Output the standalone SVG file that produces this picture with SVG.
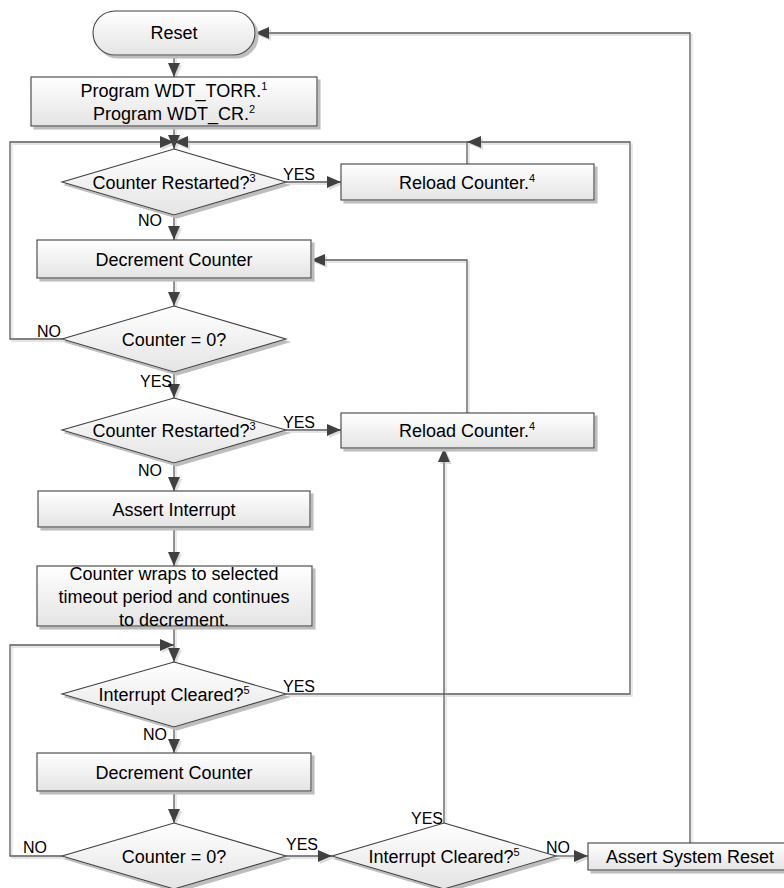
<svg xmlns="http://www.w3.org/2000/svg" width="784" height="888" viewBox="0 0 784 888">
<defs>
<linearGradient id="g" x1="0" y1="0" x2="0" y2="1">
<stop offset="0" stop-color="#ffffff"/>
<stop offset="1" stop-color="#e4e4e4"/>
</linearGradient>
<filter id="sh" x="-10%" y="-10%" width="130%" height="140%">
<feOffset in="SourceAlpha" dx="2.5" dy="2.5" result="o"/>
<feFlood flood-color="#bdbdbd"/>
<feComposite in2="o" operator="in" result="s"/>
<feMerge><feMergeNode in="s"/><feMergeNode in="SourceGraphic"/></feMerge>
</filter>
<filter id="lsh" x="-5%" y="-5%" width="110%" height="110%">
<feOffset in="SourceAlpha" dx="2" dy="2" result="o"/>
<feFlood flood-color="#dddddd"/>
<feComposite in2="o" operator="in" result="s"/>
<feMerge><feMergeNode in="s"/><feMergeNode in="SourceGraphic"/></feMerge>
</filter>
<marker id="ah" markerUnits="userSpaceOnUse" markerWidth="15" markerHeight="12" refX="14" refY="6" orient="auto">
<path d="M0,0 L14,6 L0,12 z" fill="#404040"/>
</marker>
</defs>
<style>
.box{fill:url(#g);stroke:#404040;stroke-width:1.1;filter:url(#sh)}
.t{font-family:"Liberation Sans",Arial,sans-serif;font-size:18px;fill:#000;text-anchor:middle}
.l{font-family:"Liberation Sans",Arial,sans-serif;font-size:16px;fill:#000}
.c{fill:none;stroke:#595959;stroke-width:1.3}
.a{marker-end:url(#ah)}
</style>

<g id="connectors" filter="url(#lsh)">
<path class="c a" d="M174,55 V77"/>
<path class="c a" d="M174,126 V149"/>
<path class="c a" d="M286,182 H341"/>
<path class="c a" d="M467,164 V142 H174"/>
<path class="c a" d="M174,215 V240"/>
<path class="c a" d="M174,278 V306"/>
<path class="c a" d="M62,339 H10 V142 H174"/>
<path class="c a" d="M174,372 V398"/>
<path class="c a" d="M286,430 H341"/>
<path class="c a" d="M467,413 V260 H311"/>
<path class="c a" d="M174,463 V491"/>
<path class="c a" d="M174,527 V566"/>
<path class="c a" d="M174,626 V662"/>
<path class="c a" d="M286,694 H630 V142 H467"/>
<path class="c a" d="M174,727 V753"/>
<path class="c a" d="M174,791 V823"/>
<path class="c a" d="M62,856 H10 V645 H174"/>
<path class="c a" d="M286,856 H332"/>
<path class="c a" d="M444,823 V448"/>
<path class="c a" d="M556,856 H588"/>
<path class="c a" d="M690,843 V33 H255"/>
</g>

<g id="labels">
<text class="l" x="283" y="180">YES</text>
<text class="l" x="138" y="226">NO</text>
<text class="l" x="37" y="337">NO</text>
<text class="l" x="140" y="387">YES</text>
<text class="l" x="283" y="428">YES</text>
<text class="l" x="138" y="476">NO</text>
<text class="l" x="283" y="692">YES</text>
<text class="l" x="143" y="740">NO</text>
<text class="l" x="23" y="853">NO</text>
<text class="l" x="286" y="850">YES</text>
<text class="l" x="411" y="824">YES</text>
<text class="l" x="546" y="853">NO</text>
</g>

<g id="reset">
<rect class="box" x="93" y="11" width="162" height="44" rx="22" ry="22"/>
<text class="t" x="174" y="39">Reset</text>
</g>
<g id="program">
<rect class="box" x="31" y="77" width="286" height="49"/>
<text class="t" x="174" y="97">Program WDT_TORR.<tspan font-size="11" dy="-7">1</tspan></text>
<text class="t" x="174" y="120">Program WDT_CR.<tspan font-size="11" dy="-7">2</tspan></text>
</g>
<g id="restarted1">
<polygon class="box" points="174,149 286,182 174,215 62,182"/>
<text class="t" x="174" y="189">Counter Restarted?<tspan font-size="11" dy="-7">3</tspan></text>
</g>
<g id="reload1">
<rect class="box" x="341" y="164" width="253" height="36"/>
<text class="t" x="467" y="189">Reload Counter.<tspan font-size="11" dy="-7">4</tspan></text>
</g>
<g id="decrement1">
<rect class="box" x="37" y="240" width="274" height="38"/>
<text class="t" x="174" y="266">Decrement Counter</text>
</g>
<g id="zero1">
<polygon class="box" points="174,306 286,339 174,372 62,339"/>
<text class="t" x="174" y="346">Counter = 0?</text>
</g>
<g id="restarted2">
<polygon class="box" points="174,398 286,430 174,463 62,430"/>
<text class="t" x="174" y="437">Counter Restarted?<tspan font-size="11" dy="-7">3</tspan></text>
</g>
<g id="reload2">
<rect class="box" x="341" y="413" width="253" height="35"/>
<text class="t" x="467" y="437">Reload Counter.<tspan font-size="11" dy="-7">4</tspan></text>
</g>
<g id="assertInterrupt">
<rect class="box" x="38" y="491" width="272" height="36"/>
<text class="t" x="174" y="516">Assert Interrupt</text>
</g>
<g id="wraps">
<rect class="box" x="37" y="566" width="275" height="60"/>
<text class="t" x="174" y="580">Counter wraps to selected</text>
<text class="t" x="174" y="603">timeout period and continues</text>
<text class="t" x="174" y="626">to decrement.</text>
</g>
<g id="cleared1">
<polygon class="box" points="174,662 286,694 174,727 62,694"/>
<text class="t" x="174" y="701">Interrupt Cleared?<tspan font-size="11" dy="-7">5</tspan></text>
</g>
<g id="decrement2">
<rect class="box" x="37" y="753" width="274" height="38"/>
<text class="t" x="174" y="779">Decrement Counter</text>
</g>
<g id="zero2">
<polygon class="box" points="174,823 286,856 174,889 62,856"/>
<text class="t" x="174" y="863">Counter = 0?</text>
</g>
<g id="cleared2">
<polygon class="box" points="444,823 556,856 444,889 332,856"/>
<text class="t" x="444" y="863">Interrupt Cleared?<tspan font-size="11" dy="-7">5</tspan></text>
</g>
<g id="systemReset">
<rect class="box" x="588" y="843" width="204" height="27"/>
<text class="t" x="690" y="863">Assert System Reset</text>
</g>
</svg>
